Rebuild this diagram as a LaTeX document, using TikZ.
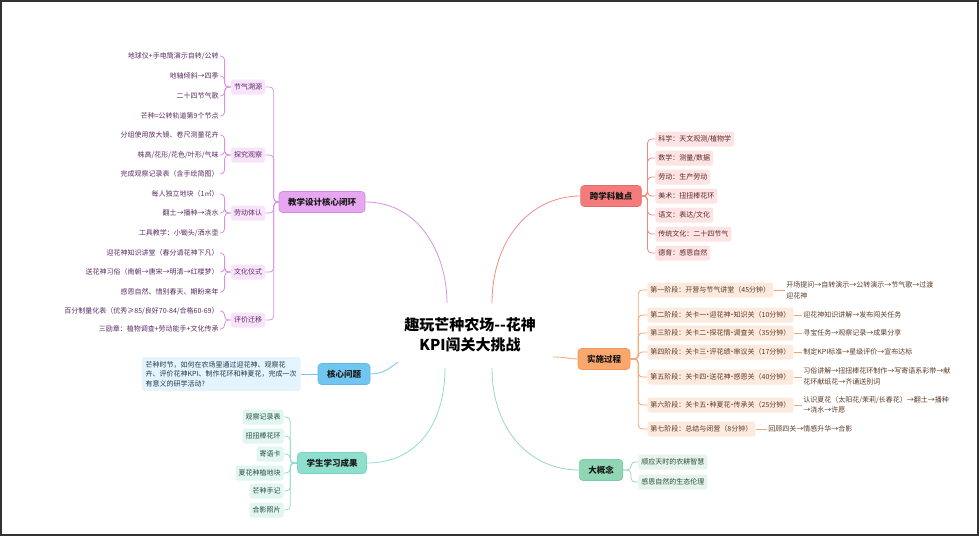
\documentclass[tikz,border=0pt]{standalone}
\usepackage{fontspec}
\setmainfont{Noto Sans CJK SC}
\newcommand\sepdot{\makebox[0.45em]{·}}
\definecolor{purpleF}{HTML}{E7A6F0}
\definecolor{purpleD}{HTML}{CF8EDC}
\definecolor{purpleL}{HTML}{D990E6}
\definecolor{purpleS}{HTML}{F8E3FB}
\definecolor{purpleT}{HTML}{5A2B64}
\definecolor{redF}{HTML}{F47B7B}
\definecolor{redD}{HTML}{E86A6A}
\definecolor{redL}{HTML}{F28A84}
\definecolor{redS}{HTML}{FDE3E3}
\definecolor{redT}{HTML}{5A2626}
\definecolor{orangeF}{HTML}{F9A76C}
\definecolor{orangeD}{HTML}{F29A5C}
\definecolor{orangeL}{HTML}{F5A470}
\definecolor{orangeS}{HTML}{FDEADE}
\definecolor{orangeT}{HTML}{5A3A26}
\definecolor{greenF}{HTML}{91D6B4}
\definecolor{greenD}{HTML}{80C9A5}
\definecolor{greenL}{HTML}{9AD6BC}
\definecolor{greenS}{HTML}{E6F4EC}
\definecolor{greenT}{HTML}{2E4A3C}
\definecolor{tealF}{HTML}{8EDFCE}
\definecolor{tealD}{HTML}{7CD2C0}
\definecolor{tealL}{HTML}{8FDCCB}
\definecolor{tealS}{HTML}{E1F6F1}
\definecolor{tealT}{HTML}{27483F}
\definecolor{blueF}{HTML}{70C6F0}
\definecolor{blueD}{HTML}{5DBAE8}
\definecolor{blueL}{HTML}{73C4EE}
\definecolor{blueS}{HTML}{E4F3FC}
\definecolor{blueT}{HTML}{1E3A4A}
\definecolor{frameC}{HTML}{333333}
\begin{document}
\begin{tikzpicture}[x=1pt,y=-1pt,line width=0.8pt,
  small/.style={font=\fontsize{7}{10}\selectfont},
  branch/.style={rounded corners=3.5pt,font=\bfseries\fontsize{8.5}{10}\selectfont,
    minimum height=21pt,inner xsep=9pt,inner ysep=0pt,text=black!90,line width=0.6pt},
  subbox/.style={small,rounded corners=2.5pt,minimum height=15pt,inner xsep=3pt,inner ysep=0pt},
  leaf/.style={small,inner sep=1pt},
  conn/.style={rounded corners=4pt,line width=0.8pt},
  psub/.style={subbox,fill=purpleS,text=purpleT},
  pleaf/.style={leaf,text=purpleT,anchor=east},
  rleaf/.style={subbox,fill=redS,text=redT,anchor=west},
  ostage/.style={subbox,fill=orangeS,text=orangeT,anchor=west},
  oleaf/.style={leaf,text=orangeT,anchor=west,align=left,font=\fontsize{7}{10.5}\selectfont},
  gleaf/.style={subbox,fill=greenS,text=greenT,anchor=west},
  tleaf/.style={subbox,fill=tealS,text=tealT,anchor=east},
]
\useasboundingbox (0,0) rectangle (979,536);
\draw[line width=2pt,frameC] (1,1) rectangle (978,535);

% centre
\node[font=\bfseries\fontsize{15}{20}\selectfont,align=center,text=black] (C) at (470,335) {趣玩芒种农场-{}-花神\\KPI闯关大挑战};
\coordinate (tP) at (447,303);
\coordinate (tR) at (492,303);
\coordinate (tB) at (398,362);
\coordinate (tT) at (445,368);
\coordinate (tG) at (492,368);
\coordinate (tO) at (553,357);

% branches
\node[branch,fill=purpleF,draw=purpleD] (P) at (322,202) {教学设计核心闭环};
\node[branch,fill=blueF,draw=blueD] (B) at (344,374) {核心问题};
\node[branch,fill=tealF,draw=tealD] (T) at (332,463) {学生学习成果};
\node[branch,fill=redF,draw=redD] (R) at (611,196) {跨学科触点};
\node[branch,fill=orangeF,draw=orangeD] (O) at (604,359) {实施过程};
\node[branch,fill=greenF,draw=greenD] (G) at (601,470) {大概念};

% main connectors
\draw[purpleL] (P.east) .. controls (420,202) and (447,255) .. (tP);
\draw[redL] (tR) .. controls (492,240) and (530,196) .. (R.west);
\draw[blueL] (B.east) .. controls (384,374) and (391,367) .. (tB);
\draw[tealL] (T.east) .. controls (420,463) and (445,420) .. (tT);
\draw[greenL] (tG) .. controls (492,430) and (530,470) .. (G.west);
\draw[orangeL] (tO) .. controls (565,357) and (570,359) .. (O.west);

% purple group
\node[psub] (p1) at (248,87) {节气溯源};
\node[psub] (p2) at (248,155) {探究观察};
\node[psub] (p3) at (248,213) {劳动体认};
\node[psub] (p4) at (248,272) {文化仪式};
\node[psub] (p5) at (248,320) {评价迁移};
\foreach \s in {p1,p2,p3,p4,p5}
  \draw[conn,purpleL] (P.west) -- ++(-5,0) |- (\s.east);

\node[pleaf] (p1a) at (220,56) {地球仪+手电筒演示自转/公转};
\node[pleaf] (p1b) at (220,76) {地轴倾斜→四季};
\node[pleaf] (p1c) at (220,96) {二十四节气歌};
\node[pleaf] (p1d) at (220,116) {芒种=公转轨道第9个节点};
\node[pleaf] (p2a) at (220,135) {分组使用放大镜、卷尺测量花卉};
\node[pleaf] (p2b) at (220,155) {株高/花形/花色/叶形/气味};
\node[pleaf] (p2c) at (220,174) {完成观察记录表（含手绘简图）};
\node[pleaf] (p3a) at (220,194) {每人独立地块（1㎡）};
\node[pleaf] (p3b) at (220,213) {翻土→播种→浇水};
\node[pleaf] (p3c) at (220,233) {工具教学：小锄头/洒水壶};
\node[pleaf] (p4a) at (220,253) {迎花神知识讲堂（春分请花神下凡）};
\node[pleaf] (p4b) at (220,272) {送花神习俗（南朝→唐宋→明清→红楼梦）};
\node[pleaf] (p4c) at (220,292) {感恩自然、惜别春天、期盼来年};
\node[pleaf] (p5a) at (220,311) {百分制量化表（优秀≥85/良好70-84/合格60-69）};
\node[pleaf] (p5b) at (220,329) {三励章：植物调查+劳动能手+文化传承};
\foreach \s/\l in {p1/p1a,p1/p1b,p1/p1c,p1/p1d,p2/p2a,p2/p2b,p2/p2c,p3/p3a,p3/p3b,p3/p3c,p4/p4a,p4/p4b,p4/p4c,p5/p5a,p5/p5b}
  \draw[conn,purpleL] (\s.west) -- ++(-6,0) |- (\l.east);

% blue group
\node[subbox,fill=blueS,text=blueT,anchor=east,align=left,inner xsep=4pt,inner ysep=4pt,font=\fontsize{7}{9.6}\selectfont] (b1) at (301,374)
  {芒种时节，如何在农场里通过迎花神、观察花\\卉、评价花神KPI、制作花环和种夏花，完成一次\\有意义的研学活动?};
\draw[blueL] (B.west) -- (b1.east);

% teal group
\node[tleaf] (t1) at (284,417) {观察记录表};
\node[tleaf] (t2) at (284,436) {扭扭棒花环};
\node[tleaf] (t3) at (284,454) {寄语卡};
\node[tleaf] (t4) at (284,473) {夏花种植地块};
\node[tleaf] (t5) at (284,491) {芒种手记};
\node[tleaf] (t6) at (284,510) {合影照片};
\foreach \l in {t1,t2,t3,t4,t5,t6}
  \draw[conn,tealL] (T.west) -- ++(-7,0) |- (\l.east);

% red group
\node[rleaf] (r1) at (655,139) {科学：天文观测/植物学};
\node[rleaf] (r2) at (655,158) {数学：测量/数据};
\node[rleaf] (r3) at (655,177) {劳动：生产劳动};
\node[rleaf] (r4) at (655,196) {美术：扭扭棒花环};
\node[rleaf] (r5) at (655,215) {语文：表达/文化};
\node[rleaf] (r6) at (655,234) {传统文化：二十四节气};
\node[rleaf] (r7) at (655,253) {德育：感恩自然};
\foreach \l in {r1,r2,r3,r4,r5,r6,r7}
  \draw[conn,redL] (R.east) -- ++(6,0) |- (\l.west);

% orange group
\node[ostage] (o1) at (647,290) {第一阶段：开营与节气讲堂（45分钟）};
\node[ostage] (o2) at (647,315) {第二阶段：关卡一\sepdot 迎花神\sepdot 知识关（10分钟）};
\node[ostage] (o3) at (647,333) {第三阶段：关卡二\sepdot 探花情\sepdot 调查关（35分钟）};
\node[ostage] (o4) at (647,352) {第四阶段：关卡三\sepdot 评花绩\sepdot 审议关（17分钟）};
\node[ostage] (o5) at (647,377) {第五阶段：关卡四\sepdot 送花神\sepdot 感恩关（40分钟）};
\node[ostage] (o6) at (647,405) {第六阶段：关卡五\sepdot 种夏花\sepdot 传承关（25分钟）};
\node[ostage] (o7) at (647,429) {第七阶段：总结与闭营（8分钟）};
\foreach \l in {o1,o2,o3,o4,o5,o6,o7}
  \draw[conn,orangeL] (O.east) -- ++(8,0) |- (\l.west);

\node[oleaf] (c1) at (785,290.5) {开场提问→自转演示→公转演示→节气歌→过渡\\迎花神};
\node[oleaf] (c2) at (802,315) {迎花神知识讲解→发布闯关任务};
\node[oleaf] (c3) at (802,333) {寻宝任务→观察记录→成果分享};
\node[oleaf] (c4) at (802,352) {制定KPI标准→星级评价→宣布达标};
\node[oleaf] (c5) at (802,376.5) {习俗讲解→扭扭棒花环制作→写寄语系彩带→献\\花环献纸花→齐诵送别词};
\node[oleaf] (c6) at (802,405) {认识夏花（太阳花/茉莉/长春花）→翻土→播种\\→浇水→许愿};
\node[oleaf] (c7) at (767,429) {回顾四关→情感升华→合影};
\foreach \s/\l in {o1/c1,o2/c2,o3/c3,o4/c4,o5/c5,o6/c6,o7/c7}
  \draw[orangeL] (\s.east) -- (\s.east -| \l.west);

% green group
\node[gleaf] (g1) at (638,462) {顺应天时的农耕智慧};
\node[gleaf] (g2) at (638,482) {感恩自然的生态伦理};
\foreach \l in {g1,g2}
  \draw[conn,greenL] (G.east) -- ++(8,0) |- (\l.west);
\end{tikzpicture}
\end{document}
